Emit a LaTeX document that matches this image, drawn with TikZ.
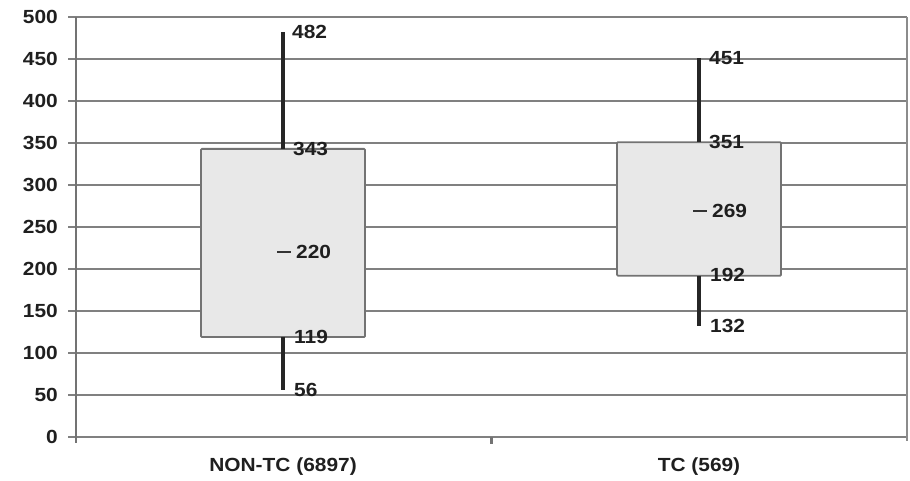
\documentclass[tikz,border=0pt]{standalone}
\usepackage{fontspec}
\setmainfont{Liberation Sans}
\begin{document}
\begin{tikzpicture}[x=1pt,y=-1pt,
  declare function={py(\v)=437-0.84*\v;},
  lbl/.style={font=\bfseries\fontsize{19}{21}\selectfont, text=black!88, inner sep=0pt},
  grid/.style={draw=black!50, line width=2.2pt},
  axisline/.style={draw=black!55, line width=2.4pt},
  boxst/.style={draw=black!55, fill=black!9, line width=1.8pt},
  whisk/.style={draw=black!85, line width=3.2pt},
  medmark/.style={draw=black!80, line width=2.2pt}]
\useasboundingbox (0,0) rectangle (910,480);
% grid and ticks
\foreach \v in {0,50,...,500}{
  \draw[grid] (68,{py(\v)}) -- (907,{py(\v)});
  \node[lbl, anchor=east] (t\v) at (58,{py(\v)}) {\scalebox{1.1}[1]{\v}};
}
\draw[axisline] (76,{py(500)}) -- (76,443);
\draw[draw=black!45, line width=1.4pt] (907,{py(500)}) -- (907,{py(0)+4});
\draw[axisline] (491.5,{py(0)}) -- (491.5,444);
% category labels
\node[lbl] (c1) at (283,467) {\scalebox{1.1}[1]{NON-TC (6897)}};
\node[lbl] (c2) at (699,467) {\scalebox{1.1}[1]{TC (569)}};
% NON-TC box
\draw[boxst, rounded corners=1pt] (201,{py(343)}) rectangle (365,{py(119)});
\coordinate (a1) at (283,{py(482)});
\coordinate (a2) at (283,{py(343)});
\coordinate (a3) at (283,{py(119)});
\coordinate (a4) at (283,{py(56)});
\draw[whisk] (a1) -- (a2);
\draw[whisk] (a3) -- (a4);
\coordinate (am1) at (277,{py(220)});
\coordinate (am2) at (291,{py(220)});
\draw[medmark] (am1) -- (am2);
\node[lbl, anchor=west] (l482) at (292,{py(482)}) {\scalebox{1.1}[1]{482}};
\node[lbl, anchor=west] (l343) at (293,{py(343)}) {\scalebox{1.1}[1]{343}};
\node[lbl, anchor=west] (l220) at (296,{py(220)}) {\scalebox{1.1}[1]{220}};
\node[lbl, anchor=west] (l119) at (294,{py(119)}) {\scalebox{1.1}[1]{119}};
\node[lbl, anchor=west] (l56) at (294,{py(56)}) {\scalebox{1.1}[1]{56}};
% TC box
\draw[boxst, rounded corners=1pt] (617,{py(351)}) rectangle (781,{py(192)});
\coordinate (b1) at (699,{py(451)});
\coordinate (b2) at (699,{py(351)});
\coordinate (b3) at (699,{py(192)});
\coordinate (b4) at (699,{py(132)});
\draw[whisk] (b1) -- (b2);
\draw[whisk] (b3) -- (b4);
\coordinate (bm1) at (693,{py(269)});
\coordinate (bm2) at (707,{py(269)});
\draw[medmark] (bm1) -- (bm2);
\node[lbl, anchor=west] (l451) at (709,{py(451)}) {\scalebox{1.1}[1]{451}};
\node[lbl, anchor=west] (l351) at (709,{py(351)}) {\scalebox{1.1}[1]{351}};
\node[lbl, anchor=west] (l269) at (712,{py(269)}) {\scalebox{1.1}[1]{269}};
\node[lbl, anchor=west] (l192) at (710,{py(192)-1}) {\scalebox{1.1}[1]{192}};
\node[lbl, anchor=west] (l132) at (710,{py(132)}) {\scalebox{1.1}[1]{132}};
\end{tikzpicture}
\end{document}
